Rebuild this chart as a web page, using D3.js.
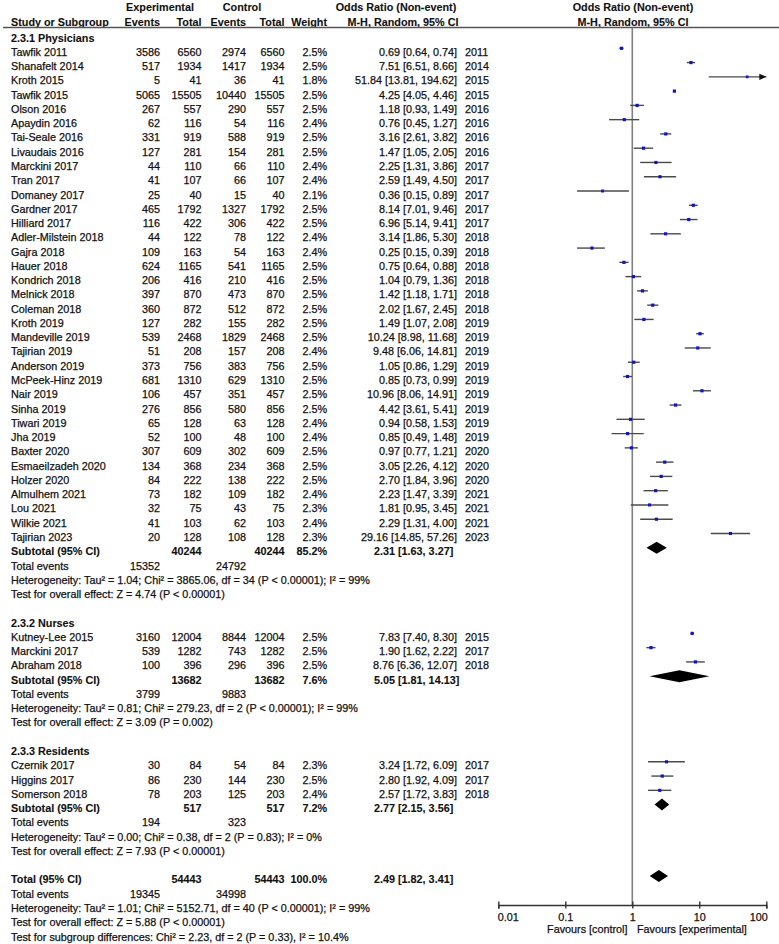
<!DOCTYPE html>
<html><head><meta charset="utf-8">
<script src="https://cdn.jsdelivr.net/npm/d3@7/dist/d3.min.js"></script>
<style>
html,body{margin:0;padding:0;background:#fff;}
svg text{font-family:"Liberation Sans",Arial,sans-serif;font-size:10.8px;fill:#111;stroke:#111;stroke-width:0.25px;}
.b{font-weight:bold;stroke-width:0.1px;}
</style></head><body>
<svg id="c" width="779" height="944"></svg>
<script>
// ---------- DATA ----------
const studyNames = ["Tawfik 2011","Shanafelt 2014","Kroth 2015","Tawfik 2015","Olson 2016","Apaydin 2016","Tai-Seale 2016","Livaudais 2016","Marckini 2017","Tran 2017","Domaney 2017","Gardner 2017","Hilliard 2017","Adler-Milstein 2018","Gajra 2018","Hauer 2018","Kondrich 2018","Melnick 2018","Coleman 2018","Kroth 2019","Mandeville 2019","Tajirian 2019","Anderson 2019","McPeek-Hinz 2019","Nair 2019","Sinha 2019","Tiwari 2019","Jha 2019","Baxter 2020","Esmaeilzadeh 2020","Holzer 2020","Almulhem 2021","Lou 2021","Wilkie 2021","Tajirian 2023",
  "Kutney-Lee 2015","Marckini 2017","Abraham 2018",
  "Czernik 2017","Higgins 2017","Somerson 2018"];
const studyGroup = [0,0,0,0,0,0,0,0,0,0,0,0,0,0,0,0,0,0,0,0,0,0,0,0,0,0,0,0,0,0,0,0,0,0,0, 1,1,1, 2,2,2];
const expEvents = [3586,517,5,5065,267,62,331,127,44,41,25,465,116,44,109,624,206,397,360,127,539,51,373,681,106,276,65,52,307,134,84,73,32,41,20, 3160,539,100, 30,86,78];
const expTotal = [6560,1934,41,15505,557,116,919,281,110,107,40,1792,422,122,163,1165,416,870,872,282,2468,208,756,1310,457,856,128,100,609,368,222,182,75,103,128, 12004,1282,396, 84,230,203];
const ctrlEvents = [2974,1417,36,10440,290,54,588,154,66,66,15,1327,306,78,54,541,210,473,512,155,1829,157,383,629,351,580,63,48,302,234,138,109,43,62,108, 8844,743,296, 54,144,125];
const ctrlTotal = [6560,1934,41,15505,557,116,919,281,110,107,40,1792,422,122,163,1165,416,870,872,282,2468,208,756,1310,457,856,128,100,609,368,222,182,75,103,128, 12004,1282,396, 84,230,203];
const weights = [2.5,2.5,1.8,2.5,2.5,2.4,2.5,2.5,2.4,2.4,2.1,2.5,2.5,2.4,2.4,2.5,2.5,2.5,2.5,2.5,2.5,2.4,2.5,2.5,2.5,2.5,2.4,2.4,2.5,2.5,2.5,2.4,2.3,2.4,2.3, 2.5,2.5,2.5, 2.3,2.5,2.4];
const oddsRatio = [0.69,7.51,51.84,4.25,1.18,0.76,3.16,1.47,2.25,2.59,0.36,8.14,6.96,3.14,0.25,0.75,1.04,1.42,2.02,1.49,10.24,9.48,1.05,0.85,10.96,4.42,0.94,0.85,0.97,3.05,2.70,2.23,1.81,2.29,29.16, 7.83,1.90,8.76, 3.24,2.80,2.57];
const ciLow = [0.64,6.51,13.81,4.05,0.93,0.45,2.61,1.05,1.31,1.49,0.15,7.01,5.14,1.86,0.15,0.64,0.79,1.18,1.67,1.07,8.98,6.06,0.86,0.73,8.06,3.61,0.58,0.49,0.77,2.26,1.84,1.47,0.95,1.31,14.85, 7.40,1.62,6.36, 1.72,1.92,1.72];
const ciHigh = [0.74,8.66,194.62,4.46,1.49,1.27,3.82,2.05,3.86,4.50,0.89,9.46,9.41,5.30,0.39,0.88,1.36,1.71,2.45,2.08,11.68,14.81,1.29,0.99,14.91,5.41,1.53,1.48,1.21,4.12,3.96,3.39,3.45,4.00,57.26, 8.30,2.22,12.07, 6.09,4.09,3.83];
const years = [2011,2014,2015,2015,2016,2016,2016,2016,2017,2017,2017,2017,2017,2018,2018,2018,2018,2018,2018,2019,2019,2019,2019,2019,2019,2019,2019,2019,2020,2020,2020,2021,2021,2021,2023, 2015,2017,2018, 2017,2017,2018];

// subgroups
const groupLabels = ["2.3.1 Physicians","2.3.2 Nurses","2.3.3 Residents"];
const groupTotalN = [40244,13682,517];
const groupWeight = ["85.2%","7.6%","7.2%"];
const groupOR = [2.31,5.05,2.77];
const groupLow = [1.63,1.81,2.15];
const groupHigh = [3.27,14.13,3.56];
const groupExpEvents = [15352,3799,194];
const groupCtrlEvents = [24792,9883,323];
const groupHet = ["Heterogeneity: Tau² = 1.04; Chi² = 3865.06, df = 34 (P < 0.00001); I² = 99%",
                  "Heterogeneity: Tau² = 0.81; Chi² = 279.23, df = 2 (P < 0.00001); I² = 99%",
                  "Heterogeneity: Tau² = 0.00; Chi² = 0.38, df = 2 (P = 0.83); I² = 0%"];
const groupTest = ["Test for overall effect: Z = 4.74 (P < 0.00001)",
                   "Test for overall effect: Z = 3.09 (P = 0.002)",
                   "Test for overall effect: Z = 7.93 (P < 0.00001)"];
// overall
const totalN = 54443, totalWeight = "100.0%";
const totalOR = 2.49, totalLow = 1.82, totalHigh = 3.41;
const totalExpEvents = 19345, totalCtrlEvents = 34998;
const totalLines = ["Heterogeneity: Tau² = 1.01; Chi² = 5152.71, df = 40 (P < 0.00001); I² = 99%",
  "Test for overall effect: Z = 5.88 (P < 0.00001)",
  "Test for subgroup differences: Chi² = 2.23, df = 2 (P = 0.33), I² = 10.4%"];
const axisTicks = [0.01,0.1,1,10,100];
const axisTickLabels = ["0.01","0.1","1","10","100"];
const favLeft = "Favours [control]", favRight = "Favours [experimental]";

// ---------- LAYOUT ----------
const svg = d3.select("#c");
const rowY = d3.scaleLinear().domain([0,62]).range([51.9, 51.9 + 62*14.27]);
const x = d3.scaleLog().domain([0.01,100]).range([498.3,766.3]);
const BASE = 3.9, MARK = -3.6;
const col = {name:11, ee:160, et:201.5, ce:246, ct:284.5, w:327, orR:457, orL:374, yr:465};
const fmt2 = d=>d.toFixed(2);
const ciTxt = (o,l,h)=>`${fmt2(o)} [${fmt2(l)}, ${fmt2(h)}]`;

function txt(xp, row, s, anchor, bold){
  return svg.append("text").attr("x",xp).attr("y",rowY(row)+BASE)
    .attr("text-anchor",anchor||"start").attr("class",bold?"b":null).text(s);
}

// headers
const hdr = svg.append("g");
hdr.append("text").attr("class","b").attr("x",160).attr("y",11).attr("text-anchor","middle").text("Experimental");
hdr.append("text").attr("class","b").attr("x",242).attr("y",11).attr("text-anchor","middle").text("Control");
hdr.append("text").attr("class","b").attr("x",396).attr("y",11).attr("text-anchor","middle").text("Odds Ratio (Non-event)");
hdr.append("text").attr("class","b").attr("x",633).attr("y",11).attr("text-anchor","middle").text("Odds Ratio (Non-event)");
hdr.append("text").attr("class","b").attr("x",col.name).attr("y",25.5).text("Study or Subgroup");
hdr.append("text").attr("class","b").attr("x",col.ee).attr("y",25.5).attr("text-anchor","end").text("Events");
hdr.append("text").attr("class","b").attr("x",col.et).attr("y",25.5).attr("text-anchor","end").text("Total");
hdr.append("text").attr("class","b").attr("x",col.ce).attr("y",25.5).attr("text-anchor","end").text("Events");
hdr.append("text").attr("class","b").attr("x",col.ct).attr("y",25.5).attr("text-anchor","end").text("Total");
hdr.append("text").attr("class","b").attr("x",col.w).attr("y",25.5).attr("text-anchor","end").text("Weight");
hdr.append("text").attr("class","b").attr("x",403).attr("y",25.5).attr("text-anchor","middle").text("M-H, Random, 95% CI");
hdr.append("text").attr("class","b").attr("x",633).attr("y",25.5).attr("text-anchor","middle").text("M-H, Random, 95% CI");
svg.append("line").attr("x1",3).attr("x2",779).attr("y1",27.5).attr("y2",27.5).attr("stroke","#555").attr("stroke-width",1.3);

// row assignment
const groupStart = [-1,40,49];
const studyRow = [];
const counters=[0,0,0];
studyNames.forEach((n,i)=>{ const g=studyGroup[i]; studyRow.push(groupStart[g]+1+counters[g]); counters[g]++; });
const groupCount = [0,1,2].map(g=>studyGroup.filter(v=>v===g).length);

// vertical line at 1
svg.append("line").attr("x1",x(1)).attr("x2",x(1)).attr("y1",27.5).attr("y2",905)
  .attr("stroke","#808080").attr("stroke-width",1.6);

// study rows
studyNames.forEach((n,i)=>{
  const r = studyRow[i];
  txt(col.name,r,n);
  txt(col.ee,r,expEvents[i],"end");
  txt(col.et,r,expTotal[i],"end");
  txt(col.ce,r,ctrlEvents[i],"end");
  txt(col.ct,r,ctrlTotal[i],"end");
  txt(col.w,r,weights[i].toFixed(1)+"%","end");
  txt(col.orR,r,ciTxt(oddsRatio[i],ciLow[i],ciHigh[i]),"end");
  txt(col.yr,r,years[i]);
  const ym = rowY(r)+MARK;
  const hi = Math.min(ciHigh[i],100), lo=Math.max(ciLow[i],0.01);
  svg.append("line").attr("x1",x(lo)).attr("x2",x(hi)).attr("y1",ym).attr("y2",ym)
    .attr("stroke","#4a4a4a").attr("stroke-width",1.4);
  if(ciHigh[i]>100){
    svg.append("path").attr("d",`M${x(100)},${ym} l-7,-3.2 l0,6.4 z`).attr("fill","#111");
  }
  const s = 3.2*Math.sqrt(weights[i]/2.5);
  svg.append("rect").attr("x",x(oddsRatio[i])-s/2).attr("y",ym-s/2).attr("width",s).attr("height",s)
    .attr("fill","#1010d8");
});

function diamond(o,l,h,row){
  const ym=rowY(row)+MARK, hh=6;
  svg.append("path").attr("d",`M${x(l)},${ym} L${x(o)},${ym-hh} L${x(h)},${ym} L${x(o)},${ym+hh} Z`).attr("fill","#000");
}

// subgroups
[0,1,2].forEach(g=>{
  const r0 = groupStart[g];
  txt(col.name,r0,groupLabels[g],"start",true);
  const rs = r0+1+groupCount[g];
  txt(col.name,rs,"Subtotal (95% CI)","start",true);
  txt(col.et,rs,groupTotalN[g],"end",true);
  txt(col.ct,rs,groupTotalN[g],"end",true);
  txt(col.w,rs,groupWeight[g],"end",true);
  txt(col.orL,rs,ciTxt(groupOR[g],groupLow[g],groupHigh[g]),"start",true);
  diamond(groupOR[g],groupLow[g],groupHigh[g],rs);
  txt(col.name,rs+1,"Total events");
  txt(col.ee,rs+1,groupExpEvents[g],"end");
  txt(col.ce,rs+1,groupCtrlEvents[g],"end");
  txt(col.name,rs+2,groupHet[g]);
  txt(col.name,rs+3,groupTest[g]);
});

// overall
const rt = 58;
txt(col.name,rt,"Total (95% CI)","start",true);
txt(col.et,rt,totalN,"end",true);
txt(col.ct,rt,totalN,"end",true);
txt(col.w,rt,totalWeight,"end",true);
txt(col.orL,rt,ciTxt(totalOR,totalLow,totalHigh),"start",true);
diamond(totalOR,totalLow,totalHigh,rt);
txt(col.name,rt+1,"Total events");
txt(col.ee,rt+1,totalExpEvents,"end");
txt(col.ce,rt+1,totalCtrlEvents,"end");
totalLines.forEach((s,k)=>txt(col.name,rt+2+k,s));

// axis
const ax = svg.append("g").attr("transform","translate(0,905)")
  .call(d3.axisBottom(x).tickValues(axisTicks).tickSize(3.5).tickPadding(5)
    .tickFormat((d,i)=>axisTickLabels[i]));
ax.attr("font-family",null).attr("font-size",null);
ax.select(".domain").attr("stroke","#333").attr("stroke-width",1.4);
ax.selectAll(".tick line").attr("y1",-3.5).attr("stroke","#333").attr("stroke-width",1.4);
ax.selectAll(".tick text").attr("fill","#111")
  .attr("text-anchor",(d,i)=> i===0?"start":(i===axisTicks.length-1?"end":"middle"))
  .attr("dy","0.71em").attr("x",(d,i)=> i===0? -1 : (i===axisTicks.length-1? 1 : 0));
svg.append("text").attr("x",627.5).attr("y",932.5).attr("text-anchor","end").text(favLeft);
svg.append("text").attr("x",637).attr("y",932.5).text(favRight);
</script>
</body></html>
